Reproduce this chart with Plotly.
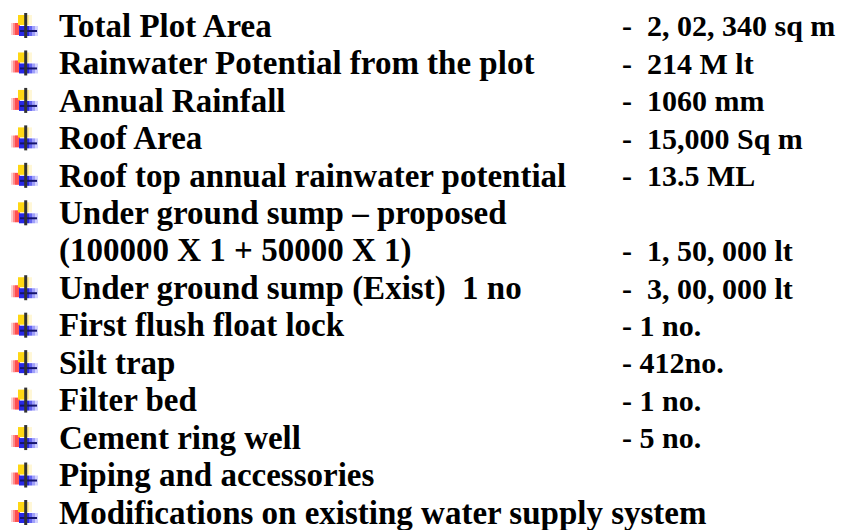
import plotly.graph_objects as go

labels = [
    "Total Plot Area",
    "Rainwater Potential from the plot",
    "Annual Rainfall",
    "Roof Area",
    "Roof top annual rainwater potential",
    "Under ground sump – proposed",
    "(100000 X 1 + 50000 X 1)",
    "Under ground sump (Exist)  1 no",
    "First flush float lock",
    "Silt trap",
    "Filter bed",
    "Cement ring well",
    "Piping and accessories",
    "Modifications on existing water supply system",
]
values = [
    "2, 02, 340 sq m",
    "214 M lt",
    "1060 mm",
    "15,000 Sq m",
    "13.5 ML",
    "",
    "1, 50, 000 lt",
    "3, 00, 000 lt",
    "1 no.",
    "412no.",
    "1 no.",
    "5 no.",
    "",
    "",
]
wide_gap = [True, True, True, True, True, False, True, True, False, False, False, False, False, False]
bullets = [True, True, True, True, True, True, False, True, True, True, True, True, True, True]

W, H = 849, 530
OFF = 8  # default page body margin
ROW0, STEP = 25.8, 37.46
TEXT_X, DASH_X = 57, 620
LABEL_FONT = dict(family="Liberation Serif", size=33, color="black")
VALUE_FONT = dict(family="Liberation Serif", size=30, color="black")

fig = go.Figure()
annotations = []
shapes = []

def rect(x0, x1, y0, y1, color):
    shapes.append(dict(type="rect", xref="x", yref="y", x0=x0, x1=x1, y0=y0, y1=y1,
                       fillcolor=color, line=dict(width=0)))

for i, (lab, val) in enumerate(zip(labels, values)):
    cy = ROW0 + i * STEP
    annotations.append(dict(x=TEXT_X, y=cy, xref="x", yref="y", text="<b>%s</b>" % lab,
                            showarrow=False, xanchor="left", yanchor="middle", font=LABEL_FONT))
    if val:
        sep = "-\u00a0\u00a0" if wide_gap[i] else "-\u00a0"
        annotations.append(dict(x=DASH_X, y=cy, xref="x", yref="y", text="<b>%s%s</b>" % (sep, val),
                                showarrow=False, xanchor="left", yanchor="middle", font=VALUE_FONT))
    if bullets[i]:
        c = cy - 0.3
        # red (left-bottom), fading to the left
        rect(11, 13, c - 2.5, c + 9.5, "rgba(255,110,110,0.35)")
        rect(13, 15, c - 2.5, c + 9.5, "rgba(255,90,90,0.7)")
        rect(15, 20, c - 2.5, c + 9.5, "rgb(255,80,80)")
        # yellow (top), fading to the right
        rect(18, 26, c - 10.5, c - 0.5, "rgb(255,215,20)")
        rect(26, 29, c - 10.5, c - 0.5, "rgb(255,236,150)")
        rect(29, 32, c - 10.5, c - 0.5, "rgb(255,247,215)")
        # blue (bottom right), fading to the right
        rect(19, 29, c + 0.5, c + 10.5, "rgb(40,40,230)")
        rect(29, 32, c + 0.5, c + 10.5, "rgb(100,100,240)")
        rect(32, 35, c + 0.5, c + 10.5, "rgb(160,160,250)")
        rect(35, 38, c + 0.5, c + 10.5, "rgb(210,210,255)")
        # horizontal line
        shapes.append(dict(type="line", xref="x", yref="y", x0=20, x1=37, y0=c + 5.5, y1=c + 5.5,
                           line=dict(color="rgb(20,20,110)", width=2)))
        # vertical line
        shapes.append(dict(type="line", xref="x", yref="y", x0=25.7, x1=25.7, y0=c - 12.5, y1=c + 12.5,
                           line=dict(color="rgb(50,50,50)", width=3)))

fig.update_layout(
    width=W, height=H,
    margin=dict(l=0, r=0, t=0, b=0),
    paper_bgcolor="white", plot_bgcolor="white",
    xaxis=dict(range=[OFF, W + OFF], visible=False, fixedrange=True),
    yaxis=dict(range=[H + OFF, OFF], visible=False, fixedrange=True),
    annotations=annotations,
    shapes=shapes,
    showlegend=False,
)

fig.write_html("out.html")
